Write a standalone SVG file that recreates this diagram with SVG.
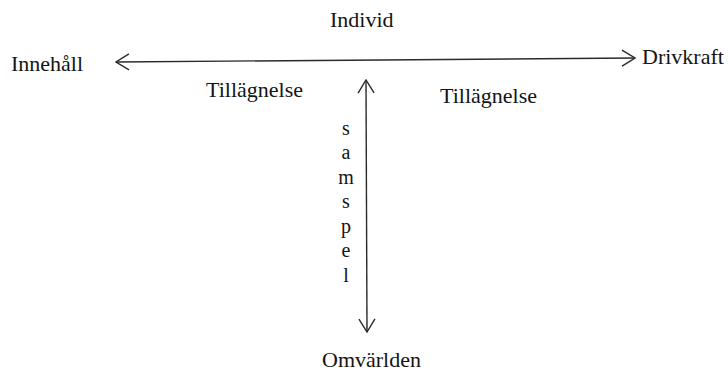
<svg xmlns="http://www.w3.org/2000/svg" width="728" height="374" viewBox="0 0 728 374">
  <style>
    .lbl { font-family: "Liberation Serif", "Times New Roman", serif; font-size: 22px; fill: #141414; }
    .vert { font-family: "Liberation Serif", "Times New Roman", serif; font-size: 20px; fill: #141414; text-anchor: middle; }
    .conn { stroke: #2a2a2a; stroke-width: 1.4; fill: none; }
  </style>
  <defs>
    <marker id="chev" viewBox="0 0 15 18" refX="14" refY="9" markerWidth="15" markerHeight="18" markerUnits="userSpaceOnUse" orient="auto-start-reverse">
      <path d="M1,1 L14,9 L1,17" fill="none" stroke="#2a2a2a" stroke-width="1.4"/>
    </marker>
  </defs>
  <rect width="728" height="374" fill="#ffffff"/>
  <g id="connectors">
    <line class="conn" x1="116" y1="62" x2="635" y2="58" marker-start="url(#chev)" marker-end="url(#chev)"/>
    <line class="conn" x1="366" y1="80" x2="367" y2="332" marker-start="url(#chev)" marker-end="url(#chev)"/>
  </g>
  <g id="individ"><text class="lbl" x="330" y="27">Individ</text></g>
  <g id="innehall"><text class="lbl" x="11" y="71">Innehåll</text></g>
  <g id="drivkraft"><text class="lbl" x="642" y="64">Drivkraft</text></g>
  <g id="tillagnelse-left"><text class="lbl" x="206" y="97">Tillägnelse</text></g>
  <g id="tillagnelse-right"><text class="lbl" x="440" y="103">Tillägnelse</text></g>
  <g id="samspel">
    <text class="vert" x="346" y="135">s</text>
    <text class="vert" x="346" y="159">a</text>
    <text class="vert" x="346" y="184">m</text>
    <text class="vert" x="346" y="208">s</text>
    <text class="vert" x="346" y="233">p</text>
    <text class="vert" x="346" y="257">e</text>
    <text class="vert" x="346" y="282">l</text>
  </g>
  <g id="omvarlden"><text class="lbl" x="322" y="367">Omvärlden</text></g>
</svg>
